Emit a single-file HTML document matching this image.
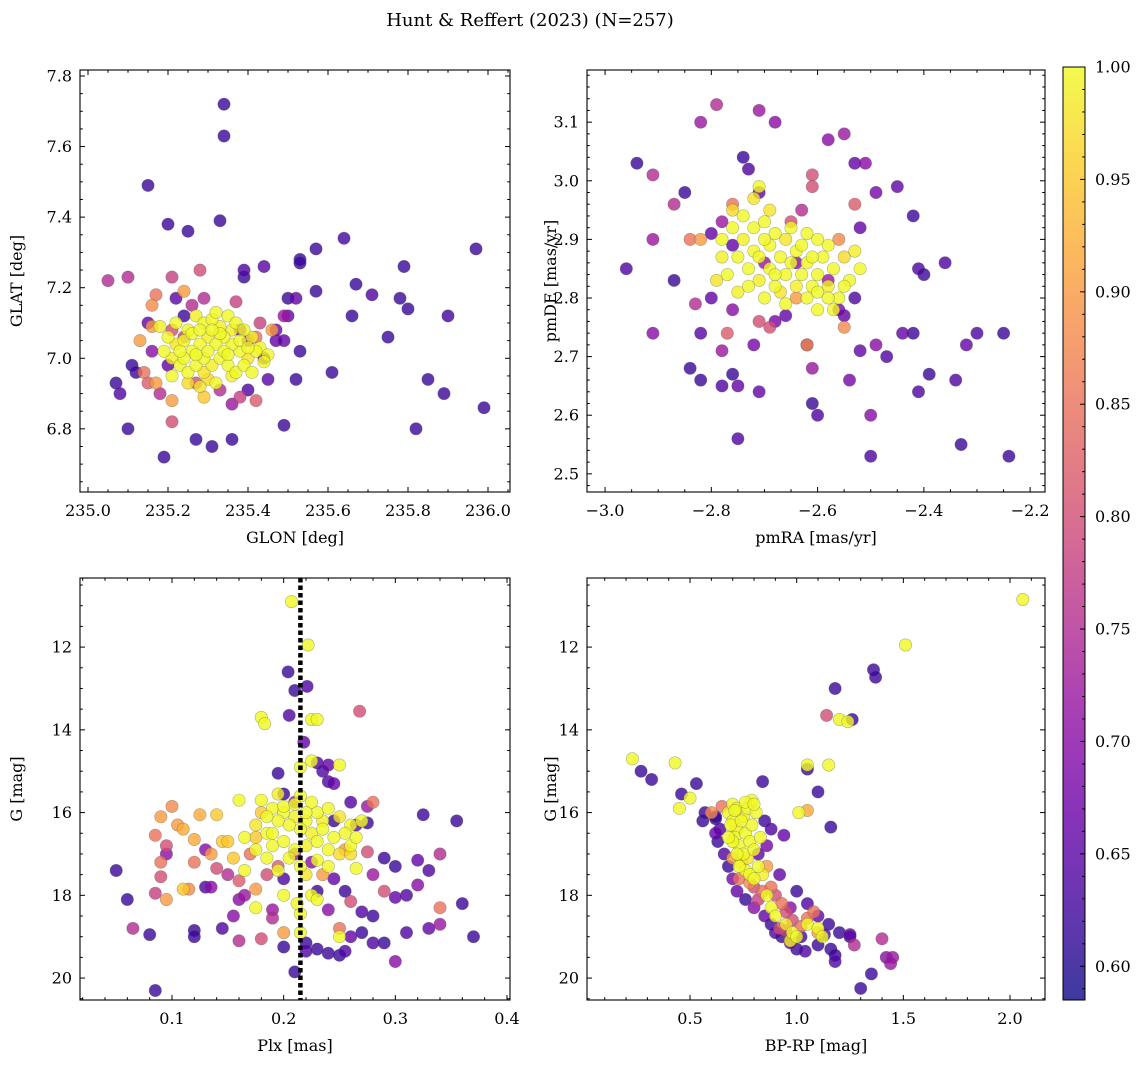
<!DOCTYPE html>
<html><head><meta charset="utf-8">
<style>
html,body{margin:0;padding:0;background:#fff;}
svg{display:block;font-family:"DejaVu Serif","Liberation Serif",serif;}
</style></head>
<body>
<svg id="fig" width="1148" height="1067" viewBox="0 0 1148 1067" xmlns="http://www.w3.org/2000/svg">
<text x="530" y="26" font-size="18" text-anchor="middle">Hunt &amp; Reffert (2023) (N=257)</text>
</svg>
<script>
// ---------- Panel 1: GLON vs GLAT ----------
const glonVals=[235.34,235.34,235.15,235.20,235.33,235.25,235.97,235.57,235.64,235.53,235.39,235.39,235.44,235.79,235.67,235.71,235.78,235.57,235.52,235.53,235.80,235.90,235.66,235.75,235.53,235.61,235.52,235.85,235.89,235.99,235.82,235.49,235.36,235.27,235.31,235.19,235.10,235.07,235.08,235.11,235.12,235.40,235.45,235.47,235.49,235.47,235.50,235.50,235.44,235.38,235.15,235.22,235.24,235.16,235.20,
235.05,235.10,235.21,235.28,235.17,235.16,235.24,235.26,235.29,235.37,235.43,235.46,235.49,235.42,235.38,235.36,235.21,235.21,235.18,235.17,235.14,235.15,235.29,235.33,235.27,235.21,235.24,235.13,235.16,235.42,235.40,
235.22,235.25,235.27,235.29,235.31,235.33,235.35,235.37,235.39,235.41,235.43,235.45,235.44,235.40,235.38,235.36,235.34,235.32,235.30,235.28,235.26,235.24,235.22,235.20,235.19,235.21,235.23,235.25,235.27,235.29,235.31,235.33,235.35,235.37,235.39,235.41,235.30,235.28,235.32,235.26,235.30,235.34,235.36,235.32,235.28,235.24,235.42,235.38,235.27,235.33,235.29,235.35,235.18,235.31,235.25,235.21,235.36,235.40,235.23];
const glatVals=[7.72,7.63,7.49,7.38,7.39,7.36,7.31,7.31,7.34,7.28,7.25,7.23,7.26,7.26,7.21,7.18,7.17,7.19,7.17,7.27,7.14,7.12,7.12,7.06,7.02,6.96,6.94,6.94,6.90,6.86,6.80,6.81,6.77,6.77,6.75,6.72,6.80,6.93,6.90,6.98,6.96,6.91,6.94,7.05,7.05,7.08,7.17,7.12,7.00,7.08,7.10,7.17,7.12,7.02,6.98,
7.22,7.23,7.23,7.25,7.18,7.15,7.19,7.15,7.17,7.16,7.10,7.08,7.12,6.88,6.89,6.87,6.82,6.88,6.90,6.93,6.96,6.93,6.89,6.91,6.93,7.08,7.06,7.05,7.09,7.06,7.05,
7.10,7.08,7.12,7.10,7.11,7.09,7.12,7.10,7.08,7.06,7.03,7.01,6.99,7.00,7.02,7.04,7.06,7.04,7.06,7.04,7.02,7.05,7.04,7.06,7.02,7.00,6.98,6.96,6.98,7.00,6.98,7.00,6.98,6.96,6.98,6.96,6.94,6.92,6.93,7.07,7.02,7.02,7.08,7.13,7.08,7.00,7.02,7.05,7.01,7.07,6.96,7.01,7.09,7.08,6.93,6.95,6.95,7.03,7.02];
const glatProb=[0.62,0.62,0.62,0.62,0.62,0.62,0.62,0.62,0.63,0.62,0.64,0.62,0.65,0.62,0.62,0.64,0.62,0.62,0.66,0.62,0.62,0.63,0.62,0.62,0.62,0.62,0.62,0.62,0.62,0.62,0.62,0.62,0.62,0.62,0.62,0.62,0.62,0.62,0.64,0.62,0.62,0.64,0.65,0.66,0.66,0.67,0.62,0.66,0.68,0.68,0.66,0.65,0.62,0.70,0.66,
0.75,0.75,0.78,0.80,0.85,0.88,0.90,0.75,0.75,0.78,0.78,0.90,0.72,0.82,0.78,0.72,0.80,0.90,0.75,0.90,0.85,0.82,0.95,0.75,0.80,0.80,0.78,0.90,0.90,0.85,0.70,
1,1,0.99,1,1,0.99,1,1,1,0.99,1,1,1,0.98,1,1,1,1,0.99,1,1,1,0.98,1,1,0.99,1,1,1,1,0.99,1,1,1,1,1,0.97,0.98,1,1,1,1,0.99,1,1,1,1,1,1,1,0.98,1,0.99,1,0.97,1,0.99,1,1];

// ---------- Panel 2: pmRA vs pmDE ----------
const pmraVals=[-2.94,-2.96,-2.91,-2.91,-2.91,-2.87,-2.87,-2.85,-2.84,-2.82,-2.83,-2.82,-2.80,-2.78,-2.78,-2.76,-2.75,-2.75,-2.71,-2.72,-2.76,-2.74,-2.73,-2.71,-2.79,-2.82,-2.71,-2.68,-2.61,-2.60,-2.61,-2.62,-2.58,-2.55,-2.53,-2.51,-2.49,-2.45,-2.42,-2.41,-2.40,-2.36,-2.44,-2.42,-2.49,-2.47,-2.52,-2.54,-2.50,-2.50,-2.33,-2.24,-2.34,-2.32,-2.30,-2.25,-2.41,-2.39,-2.52,-2.53,-2.55,-2.56,-2.63,-2.61,-2.61,-2.58,-2.64,-2.66,-2.68,-2.70,-2.78,-2.76,-2.80,-2.82,-2.84,-2.76,-2.65,-2.62,-2.55,-2.53,-2.56,-2.64,-2.77,-2.71,-2.69,
-2.78,-2.76,-2.74,-2.72,-2.70,-2.68,-2.66,-2.64,-2.62,-2.60,-2.58,-2.56,-2.54,-2.52,-2.55,-2.58,-2.60,-2.62,-2.67,-2.69,-2.71,-2.73,-2.75,-2.77,-2.79,-2.72,-2.70,-2.68,-2.66,-2.64,-2.62,-2.60,-2.58,-2.61,-2.63,-2.65,-2.67,-2.69,-2.71,-2.73,-2.75,-2.74,-2.72,-2.71,-2.76,-2.57,-2.55,-2.53,-2.59,-2.63,-2.60,-2.57,-2.66,-2.68,-2.70,-2.78,-2.65,-2.69,-2.61];
const pmdeVals=[3.03,2.85,2.90,2.74,3.01,2.96,2.83,2.98,2.68,2.66,2.79,2.74,2.80,2.65,2.71,2.67,2.65,2.56,2.64,2.72,2.78,3.04,3.02,2.98,3.13,3.10,3.12,3.10,2.62,2.60,2.68,2.72,3.07,3.08,3.03,3.03,2.98,2.99,2.94,2.85,2.84,2.86,2.74,2.74,2.72,2.70,2.71,2.66,2.60,2.53,2.55,2.53,2.66,2.72,2.74,2.74,2.64,2.67,2.92,2.80,2.77,2.78,2.95,3.01,2.99,2.83,2.86,2.77,2.76,2.86,2.93,2.89,2.91,2.90,2.90,2.96,2.93,2.72,2.75,2.96,2.90,2.80,2.74,2.76,2.75,
2.90,2.92,2.90,2.92,2.93,2.91,2.90,2.88,2.86,2.84,2.82,2.80,2.83,2.85,2.87,2.89,2.90,2.91,2.87,2.85,2.83,2.85,2.87,2.84,2.83,2.88,2.80,2.82,2.84,2.82,2.80,2.78,2.80,2.82,2.84,2.86,2.81,2.89,2.87,2.82,2.81,2.94,2.97,2.99,2.95,2.85,2.82,2.88,2.87,2.89,2.81,2.78,2.79,2.84,2.90,2.87,2.92,2.95,2.87];
const pmProb=[0.62,0.64,0.72,0.70,0.75,0.75,0.62,0.62,0.62,0.62,0.75,0.65,0.66,0.64,0.72,0.62,0.66,0.64,0.66,0.68,0.70,0.62,0.64,0.66,0.75,0.72,0.72,0.70,0.62,0.64,0.72,0.66,0.70,0.72,0.66,0.70,0.68,0.66,0.62,0.64,0.62,0.64,0.66,0.62,0.70,0.64,0.66,0.68,0.70,0.64,0.62,0.62,0.64,0.66,0.64,0.62,0.64,0.62,0.66,0.64,0.66,0.68,0.75,0.80,0.80,0.72,0.70,0.66,0.68,0.72,0.72,0.66,0.66,0.90,0.85,0.85,0.80,0.88,0.88,0.82,0.88,0.90,0.82,0.80,0.80,
1,1,0.99,1,1,1,0.98,1,1,1,0.99,1,1,1,0.97,1,1,1,1,1,0.99,1,1,1,0.98,1,1,1,1,0.99,1,1,1,1,1,1,0.98,1,1,1,0.99,1,0.98,1,0.97,1,1,0.99,1,1,1,1,1,1,1,0.99,1,0.98,1];

// ---------- Panel 3: Plx vs G ----------
const plxVals=[0.207,0.222,0.204,0.210,0.221,0.180,0.183,0.205,0.225,0.230,0.268,0.218,0.225,0.230,0.240,0.235,0.250,0.215,0.195,0.240,0.245,0.160,0.280,0.100,0.090,0.105,0.110,0.125,0.140,0.120,0.145,0.085,0.095,0.135,0.120,0.090,0.090,0.085,0.095,0.110,0.135,0.050,0.060,0.065,0.080,0.085,0.120,0.120,0.145,0.160,0.180,0.190,0.200,0.210,0.220,0.220,0.230,0.240,0.250,0.255,0.260,0.270,0.280,0.300,0.290,0.310,0.330,0.340,0.360,0.370,0.355,0.340,0.340,0.325,0.330,0.320,0.320,0.300,0.310,0.290,0.290,0.300,0.280,0.270,0.260,0.265,0.255,0.250,0.250,0.240,0.245,0.235,0.230,0.225,0.200,0.190,0.175,0.175,0.165,0.155,0.160,0.150,0.140,0.165,0.155,0.175,0.170,0.160,0.185,0.195,0.200,0.210,0.225,0.275,0.280,0.265,0.275,0.275,0.260,0.245,0.200,0.210,0.130,0.095,0.130,0.150,0.115,0.180,
0.180,0.190,0.200,0.210,0.220,0.230,0.240,0.250,0.260,0.255,0.245,0.235,0.225,0.215,0.205,0.195,0.185,0.175,0.165,0.175,0.190,0.200,0.210,0.220,0.230,0.240,0.250,0.260,0.265,0.270,0.225,0.215,0.195,0.185,0.205,0.215,0.220,0.195,0.185,0.230,0.240,0.255,0.200,0.220,0.235,0.210,0.190,0.215,0.215,0.212,0.200,0.260,0.230];
const gPlxVals=[10.9,11.95,12.6,13.05,12.95,13.7,13.85,13.65,13.75,13.75,13.55,14.3,14.75,14.8,14.85,15.0,14.85,14.9,15.05,15.25,15.3,15.7,15.75,15.85,16.1,16.3,16.4,16.05,16.05,16.65,16.7,16.55,16.8,17.0,17.2,17.2,17.55,17.95,18.1,17.85,17.8,17.4,18.1,18.8,18.95,20.3,18.85,19.0,18.8,19.1,19.05,18.55,19.25,19.85,19.15,19.35,19.3,19.4,19.45,19.35,19.0,18.9,19.15,19.6,19.15,18.9,18.8,18.7,18.2,19.0,16.2,17.0,18.3,16.05,17.4,17.15,17.75,17.3,18.0,17.1,17.9,18.05,18.5,18.4,18.15,17.35,17.9,18.8,19.0,18.35,17.6,17.5,17.9,18.0,18.9,18.35,18.3,17.85,18.0,18.5,18.1,17.5,17.35,17.4,17.1,16.6,17.0,17.65,17.5,17.3,17.6,17.0,17.2,16.95,17.5,16.3,16.25,15.85,15.75,16.2,15.55,15.75,17.8,17.0,16.9,16.7,17.85,16.0,
15.7,15.9,16.0,16.1,16.2,16.0,15.9,16.1,16.3,16.5,16.6,16.4,16.5,16.4,16.3,16.2,16.1,16.3,16.6,16.9,16.8,16.7,16.9,16.8,16.7,16.9,17.0,16.8,16.6,16.2,15.75,15.6,15.55,16.5,17.1,17.3,17.5,17.4,17.1,17.15,17.3,16.9,15.85,16.0,16.2,15.8,16.5,18.45,18.9,18.2,18.0,17.0,18.1];
const plxProb=[1,1,0.62,0.62,0.64,1,1,0.64,1,1,0.80,0.66,1,0.64,0.66,0.64,1,1,0.62,0.64,0.66,1,0.85,0.88,0.90,0.90,0.92,0.92,0.95,0.92,0.95,0.85,0.80,0.90,0.85,0.85,0.80,0.78,0.90,0.95,0.70,0.62,0.62,0.75,0.62,0.62,0.62,0.62,0.64,0.75,0.80,0.75,0.62,0.62,0.62,0.64,0.62,0.62,0.62,0.64,0.66,0.62,0.64,0.70,0.62,0.64,0.66,0.72,0.62,0.62,0.62,0.75,0.85,0.62,0.64,0.66,0.70,0.62,0.64,0.62,0.80,0.66,0.62,0.64,0.80,1,0.62,0.85,1,0.70,0.66,0.90,0.62,1,0.90,0.72,1,0.90,0.72,0.70,0.70,0.75,0.80,1,0.95,0.95,0.85,0.82,0.80,0.82,0.64,0.72,0.70,0.80,0.72,0.66,0.62,0.72,0.64,0.62,0.62,0.72,0.64,0.70,0.70,0.95,0.88,0.95,
1,1,1,0.99,1,1,1,0.98,1,1,1,1,0.99,1,1,1,1,0.98,1,1,1,1,1,0.99,1,1,0.97,1,1,1,1,1,0.99,1,1,1,0.98,1,1,1,1,0.90,1,1,0.99,1,1,1,1,1,1,0.97,1];

// ---------- Panel 4: BP-RP vs G ----------
const bprpVals=[2.06,1.51,1.36,1.37,1.18,1.14,1.20,1.24,1.26,0.23,0.27,0.32,0.43,0.45,0.46,0.50,0.53,1.05,1.05,1.15,1.10,1.05,1.01,0.94,0.84,1.16,0.62,0.60,
0.68,0.70,0.72,0.71,0.73,0.75,0.74,0.76,0.78,0.70,0.72,0.75,0.77,0.79,0.76,0.78,0.80,0.77,0.69,0.70,0.72,0.73,0.82,0.84,0.80,0.86,0.88,0.90,0.95,0.98,1.00,1.05,1.10,1.12,0.97,0.81,0.79,0.74,0.71,0.68,0.76,0.80,0.83,
0.65,0.70,0.73,0.80,0.84,0.88,0.90,0.93,0.95,0.98,0.92,0.95,1.02,1.05,1.08,1.10,0.78,0.86,0.82,0.97,
0.62,0.64,0.63,0.62,0.66,0.68,0.70,0.72,0.76,0.80,0.85,0.88,0.90,0.93,0.97,1.00,1.02,0.82,0.85,0.88,0.86,0.92,1.00,1.05,1.10,1.15,1.13,1.20,1.25,1.25,0.56,0.57,
1.30,1.35,1.42,1.44,1.40,1.27,1.16,1.18,1.18,1.04,1.10,1.45];
const gBpVals=[10.85,11.95,12.55,12.73,13.0,13.65,13.75,13.8,13.75,14.7,15.0,15.2,14.8,15.9,15.55,15.65,15.3,14.85,14.95,14.85,15.5,15.95,16.0,16.55,15.25,16.35,16.15,16.0,
16.0,16.2,16.4,16.6,16.8,17.0,17.2,17.4,17.5,15.8,15.9,16.1,15.9,15.7,16.5,16.7,16.9,17.1,16.3,16.7,17.0,17.3,17.3,17.5,17.6,18.0,18.3,18.5,18.7,18.9,19.0,18.7,18.8,19.0,19.1,16.0,16.3,16.2,15.95,16.6,15.75,15.8,16.6,
15.85,17.1,17.6,17.8,17.9,17.8,18.0,18.2,18.4,18.6,18.8,18.85,18.75,18.55,18.4,18.9,17.7,17.3,18.1,18.3,
16.1,16.4,16.7,16.5,17.0,17.3,17.6,17.9,18.1,18.3,18.5,18.7,18.9,19.0,19.15,19.3,19.0,17.0,16.2,16.4,16.8,17.5,17.9,18.2,18.5,18.7,18.95,18.9,18.95,19.0,16.2,16.0,
20.25,19.9,19.5,19.65,19.05,19.2,19.3,19.6,19.45,19.35,19.2,19.5];
const bpProb=[1,1,0.62,0.62,0.62,0.80,1,1,0.62,1,0.62,0.62,1,1,0.62,1,0.62,1,0.62,1,0.62,0.92,1,0.66,0.62,0.62,0.62,0.88,
1,1,0.99,1,1,1,0.98,1,1,1,1,0.99,1,1,1,1,1,0.98,1,1,1,1,1,0.99,1,1,1,1,0.98,1,1,1,1,1,0.99,1,1,1,1,1,1,1,1,
0.85,0.90,0.85,0.80,0.85,0.85,0.80,0.85,0.80,0.80,0.80,0.78,0.85,0.85,0.85,0.90,0.88,0.90,0.78,0.70,
0.62,0.64,0.62,0.66,0.64,0.62,0.68,0.66,0.62,0.70,0.66,0.62,0.64,0.62,0.66,0.62,0.64,0.66,0.62,0.64,0.68,0.66,0.62,0.64,0.66,0.62,0.64,0.62,0.66,0.62,0.62,0.62,
0.62,0.62,0.70,0.72,0.75,0.75,0.62,0.64,0.62,0.64,0.62,0.72];

// ---------- Colormap ----------
const VMIN=0.585, VMAX=1.0;
const plasmaStops=[[13,8,135],[65,4,157],[106,0,168],[143,13,164],[177,42,144],[204,71,120],[225,100,98],[242,132,75],[252,166,54],[252,206,37],[240,249,33]];
function plasma(v){
  let t=(v-VMIN)/(VMAX-VMIN); t=Math.max(0,Math.min(1,t));
  const f=t*10, i=Math.min(9,Math.floor(f)), r=f-i;
  const a=plasmaStops[i], b=plasmaStops[i+1];
  return `rgb(${Math.round(a[0]+(b[0]-a[0])*r)},${Math.round(a[1]+(b[1]-a[1])*r)},${Math.round(a[2]+(b[2]-a[2])*r)})`;
}

const NS="http://www.w3.org/2000/svg";
const fig=document.getElementById('fig');
function mk(tag,attrs,parent){const e=document.createElementNS(NS,tag);for(const k in attrs)e.setAttribute(k,attrs[k]);(parent||fig).appendChild(e);return e;}
function fmt(v,d){const s=Math.abs(v).toFixed(d);return (v<-1e-9?'\u2212':'')+s;}

function panel(cfg){
  const g=mk('g',{});
  
  
  const {L,R,T,B,x0,x1,y0,y1,invY}=cfg;
  const sx=v=>L+(v-x0)/(x1-x0)*(R-L);
  const sy=invY? (v=>T+(v-y0)/(y1-y0)*(B-T)) : (v=>B-(v-y0)/(y1-y0)*(B-T));
  const idx=cfg.xs.map((_,i)=>i).sort((a,b)=>cfg.cs[a]-cfg.cs[b]);
  const pg=mk('g',{},g);
  
  
  idx.forEach(i=>{
    const c=mk('circle',{cx:sx(cfg.xs[i]).toFixed(1),cy:sy(cfg.ys[i]).toFixed(1),r:6.2,fill:plasma(cfg.cs[i]),'fill-opacity':0.8,stroke:'#555','stroke-opacity':0.45,'stroke-width':0.6},pg);
    
    
  });
  if(cfg.vline!==undefined){
    const l=mk('line',{x1:sx(cfg.vline),x2:sx(cfg.vline),y1:T,y2:B,stroke:'#000','stroke-width':4.5,'stroke-dasharray':'4.5,3'},g);
    
    
  }
  const fr=mk('rect',{x:L,y:T,width:R-L,height:B-T,fill:'none',stroke:'#000','stroke-width':1.1},g);
  
  
  const tg=mk('g',{stroke:'#000','stroke-width':1},g);
  const eps=1e-9;
  for(let v=Math.ceil(x0/cfg.xminor-eps)*cfg.xminor;v<=x1+eps;v+=cfg.xminor){
    const X=sx(v);const maj=Math.abs(v/cfg.xmajor-Math.round(v/cfg.xmajor))<1e-6;const len=maj?5:2.8;
    mk('line',{x1:X,x2:X,y1:B,y2:B-len},tg);mk('line',{x1:X,x2:X,y1:T,y2:T+len},tg);
  }
  for(let v=Math.ceil(Math.min(y0,y1)/cfg.yminor-eps)*cfg.yminor;v<=Math.max(y0,y1)+eps;v+=cfg.yminor){
    const Y=sy(v);const maj=Math.abs(v/cfg.ymajor-Math.round(v/cfg.ymajor))<1e-6;const len=maj?5:2.8;
    mk('line',{x1:L,x2:L+len,y1:Y,y2:Y},tg);mk('line',{x1:R,x2:R-len,y1:Y,y2:Y},tg);
  }
  cfg.xticks.forEach(v=>{
    const t=mk('text',{x:sx(v),y:B+24,'font-size':16,'text-anchor':'middle'},g);t.textContent=fmt(v,cfg.xd);
    
    
  });
  cfg.yticks.forEach(v=>{
    const t=mk('text',{x:L-8,y:sy(v)+5.5,'font-size':16,'text-anchor':'end'},g);t.textContent=fmt(v,cfg.yd);
    
    
  });
  const xl=mk('text',{x:(L+R)/2,y:B+51,'font-size':16,'text-anchor':'middle'},g);xl.textContent=cfg.xlabel;
  
  
  const yx=cfg.ylx, yy=(T+B)/2;
  const yl=mk('text',{x:yx,y:yy,'font-size':16,'text-anchor':'middle',transform:`rotate(-90 ${yx} ${yy})`},g);yl.textContent=cfg.ylabel;
  
  
}

panel({name:'sky-position-panel',L:80,R:510,T:70,B:492,x0:234.98,x1:236.055,y0:6.621,y1:7.817,
  xs:glonVals,ys:glatVals,cs:glatProb,xmajor:0.2,xminor:0.05,ymajor:0.2,yminor:0.05,
  xticks:[235.0,235.2,235.4,235.6,235.8,236.0],yticks:[6.8,7.0,7.2,7.4,7.6,7.8],xd:1,yd:1,
  xlabel:'GLON [deg]',ylabel:'GLAT [deg]',ylx:22});
panel({name:'proper-motion-panel',L:587,R:1045,T:70,B:492,x0:-3.034,x1:-2.172,y0:2.469,y1:3.189,
  xs:pmraVals,ys:pmdeVals,cs:pmProb,xmajor:0.2,xminor:0.05,ymajor:0.1,yminor:0.02,
  xticks:[-3.0,-2.8,-2.6,-2.4,-2.2],yticks:[2.5,2.6,2.7,2.8,2.9,3.0,3.1],xd:1,yd:1,
  xlabel:'pmRA [mas/yr]',ylabel:'pmDE [mas/yr]',ylx:556});
panel({name:'parallax-panel',L:80,R:510,T:578,B:1000,x0:0.0176,x1:0.4027,y0:10.33,y1:20.53,invY:true,
  xs:plxVals,ys:gPlxVals,cs:plxProb,xmajor:0.1,xminor:0.02,ymajor:2,yminor:0.5,vline:0.215,
  xticks:[0.1,0.2,0.3,0.4],yticks:[12,14,16,18,20],xd:1,yd:0,
  xlabel:'Plx [mas]',ylabel:'G [mag]',ylx:22});
panel({name:'cmd-panel',L:587,R:1045,T:578,B:1000,x0:0.017,x1:2.164,y0:10.33,y1:20.53,invY:true,
  xs:bprpVals,ys:gBpVals,cs:bpProb,xmajor:0.5,xminor:0.1,ymajor:2,yminor:0.5,
  xticks:[0.5,1.0,1.5,2.0],yticks:[12,14,16,18,20],xd:1,yd:0,
  xlabel:'BP-RP [mag]',ylabel:'G [mag]',ylx:556});

// ---------- Colorbar ----------
const cbTicks=[0.60,0.65,0.70,0.75,0.80,0.85,0.90,0.95,1.00];
(function(){
  const L=1063,R=1085,T=67,B=1000;
  const cg=mk('g',{});
  
  
  const defs=mk('defs',{},cg);
  const lg=mk('linearGradient',{id:'cbg',x1:0,y1:1,x2:0,y2:0},defs);
  for(let k=0;k<=20;k++){mk('stop',{offset:k/20,'stop-color':plasma(VMIN+(VMAX-VMIN)*k/20),'stop-opacity':0.8},lg);}
  mk('rect',{x:L,y:T,width:R-L,height:B-T,fill:'url(#cbg)',stroke:'#000','stroke-width':1},cg);
  const sy=v=>B-(v-VMIN)/(VMAX-VMIN)*(B-T);
  for(let v=0.59;v<=1.0001;v+=0.01){const Y=sy(v);const maj=Math.abs(v*20-Math.round(v*20))<1e-6;mk('line',{x1:R,x2:R-(maj?5:2.8),y1:Y,y2:Y,stroke:'#000'},cg);}
  cbTicks.forEach(v=>{const t=mk('text',{x:R+10,y:sy(v)+5.5,'font-size':16},cg);t.textContent=v.toFixed(2);
    
    });
})();
</script>
</body></html>
